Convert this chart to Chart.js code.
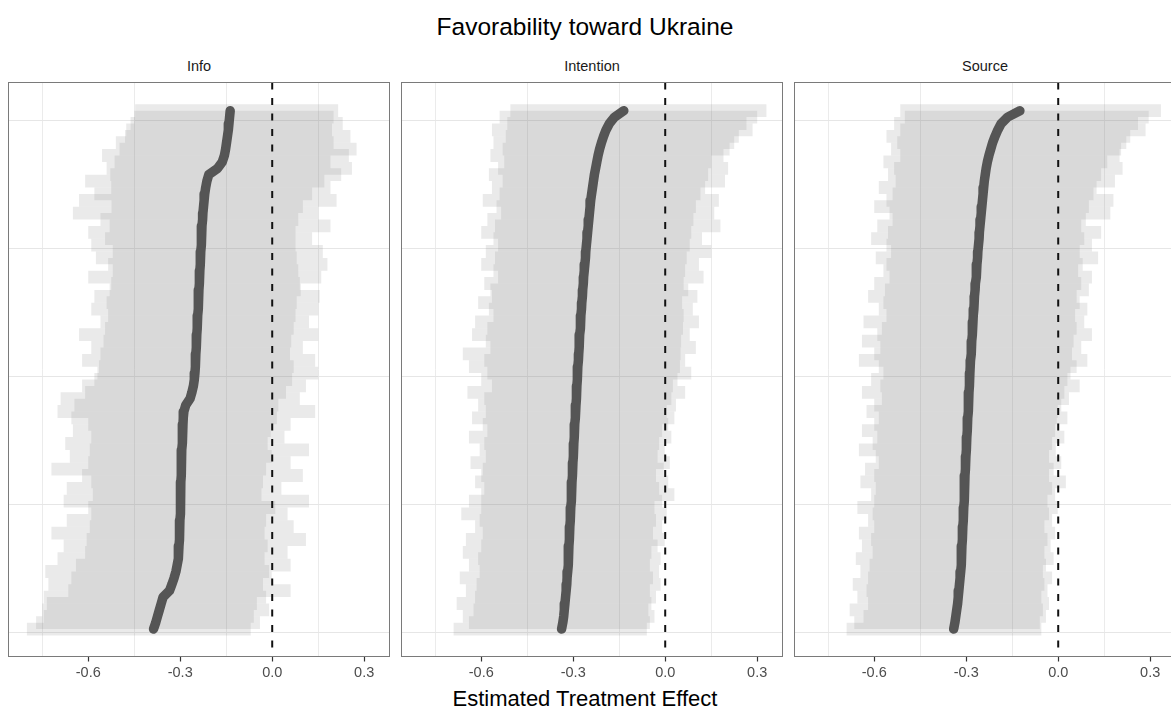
<!DOCTYPE html>
<html><head><meta charset="utf-8">
<script src="https://cdn.jsdelivr.net/npm/chart.js@4.4.1/dist/chart.umd.min.js"></script>
<style>
html,body{margin:0;padding:0;background:#fff;overflow:hidden;width:1171px;height:708px;position:relative;font-family:"Liberation Sans",Arial,sans-serif;}
canvas{position:absolute;top:82px;}
.txt{position:absolute;white-space:nowrap;transform:translate(-50%,-50%);line-height:1;}
.strip{top:66px;font-size:14.5px;color:#1a1a1a;}
</style></head><body>
<div class="txt" style="left:585px;top:27px;font-size:24.5px;color:#000">Favorability toward Ukraine</div>
<div class="txt strip" id="s0"></div>
<div class="txt strip" id="s1"></div>
<div class="txt strip" id="s2"></div>
<div class="txt" style="left:585px;top:699px;font-size:22px;color:#000">Estimated Treatment Effect</div>
<canvas id="c0" width="382" height="620" style="left:8px"></canvas>
<canvas id="c1" width="382" height="620" style="left:401px"></canvas>
<canvas id="c2" width="382" height="620" style="left:794px"></canvas>
<script>
// Facet names
const panels = ['Info', 'Intention', 'Source'];
// Labelled x ticks and the (unlabelled) vertical grid lines
const xTicks = [-0.6, -0.3, 0.0, 0.3];
const xGridLines = [-0.75, -0.45, -0.15, 0.15];

// Rows are listed from the top of each panel (largest estimate) down to the bottom.
const infoEst = [-0.137,-0.139,-0.141,-0.143,-0.146,-0.149,-0.152,-0.156,-0.163,-0.178,
 -0.207,-0.213,-0.217,-0.220,-0.222,-0.224,-0.226,-0.227,-0.229,-0.230,
 -0.231,-0.232,-0.233,-0.234,-0.235,-0.236,-0.237,-0.238,-0.239,-0.240,
 -0.241,-0.242,-0.243,-0.244,-0.245,-0.246,-0.247,-0.248,-0.249,-0.250,
 -0.251,-0.252,-0.254,-0.257,-0.262,-0.268,-0.282,-0.288,-0.290,-0.291,
 -0.292,-0.293,-0.294,-0.295,-0.296,-0.296,-0.297,-0.297,-0.298,-0.298,
 -0.299,-0.299,-0.300,-0.300,-0.301,-0.302,-0.302,-0.303,-0.304,-0.305,
 -0.307,-0.310,-0.314,-0.320,-0.327,-0.335,-0.356,-0.362,-0.368,-0.374,
 -0.380,-0.387];
const infoLo = [-0.447,-0.450,-0.462,-0.476,-0.480,-0.510,-0.498,-0.555,-0.514,-0.540,
 -0.528,-0.610,-0.525,-0.580,-0.630,-0.524,-0.650,-0.560,-0.530,-0.600,
 -0.545,-0.590,-0.520,-0.575,-0.535,-0.520,-0.600,-0.525,-0.530,-0.580,
 -0.540,-0.590,-0.535,-0.560,-0.545,-0.630,-0.550,-0.590,-0.560,-0.620,
 -0.565,-0.570,-0.580,-0.620,-0.610,-0.690,-0.645,-0.700,-0.655,-0.600,
 -0.650,-0.590,-0.675,-0.595,-0.660,-0.600,-0.720,-0.620,-0.590,-0.670,
 -0.585,-0.680,-0.600,-0.590,-0.670,-0.595,-0.720,-0.605,-0.680,-0.610,
 -0.700,-0.640,-0.740,-0.655,-0.730,-0.665,-0.745,-0.735,-0.750,-0.745,
 -0.770,-0.800];
const infoHi = [0.215,0.200,0.230,0.195,0.255,0.200,0.275,0.250,0.190,0.260,
 0.225,0.170,0.190,0.130,0.210,0.100,0.150,0.085,0.190,0.076,
 0.130,0.076,0.165,0.080,0.180,0.085,0.160,0.090,0.093,0.155,
 0.080,0.150,0.076,0.120,0.070,0.150,0.062,0.100,0.058,0.140,
 0.070,0.150,0.065,0.110,0.045,0.090,0.020,0.140,0.015,0.060,
 -0.005,0.040,-0.015,0.120,0.000,0.060,-0.020,0.100,-0.030,0.030,
 -0.035,0.120,0.010,0.050,-0.020,0.070,-0.025,0.110,-0.015,0.050,
 -0.025,0.060,-0.010,0.000,-0.030,0.060,-0.020,-0.050,-0.010,-0.060,
 -0.040,-0.070];

const intEst = [-0.135,-0.165,-0.182,-0.193,-0.201,-0.208,-0.214,-0.219,-0.223,-0.227,
 -0.231,-0.234,-0.237,-0.240,-0.243,-0.245,-0.247,-0.249,-0.251,-0.253,
 -0.255,-0.257,-0.259,-0.260,-0.262,-0.264,-0.266,-0.267,-0.269,-0.270,
 -0.272,-0.273,-0.275,-0.276,-0.277,-0.279,-0.280,-0.281,-0.282,-0.283,
 -0.285,-0.286,-0.287,-0.288,-0.289,-0.290,-0.291,-0.292,-0.294,-0.295,
 -0.296,-0.297,-0.298,-0.299,-0.300,-0.301,-0.302,-0.303,-0.304,-0.305,
 -0.306,-0.307,-0.308,-0.309,-0.310,-0.311,-0.312,-0.313,-0.314,-0.315,
 -0.316,-0.317,-0.318,-0.320,-0.321,-0.323,-0.325,-0.327,-0.329,-0.331,
 -0.334,-0.338];
const intLo = [-0.505,-0.540,-0.515,-0.565,-0.520,-0.560,-0.530,-0.570,-0.525,-0.545,
 -0.575,-0.530,-0.565,-0.540,-0.595,-0.550,-0.535,-0.580,-0.555,-0.600,
 -0.560,-0.545,-0.585,-0.555,-0.600,-0.560,-0.545,-0.590,-0.570,-0.565,
 -0.610,-0.575,-0.560,-0.620,-0.580,-0.630,-0.585,-0.570,-0.660,-0.590,
 -0.640,-0.580,-0.600,-0.565,-0.645,-0.590,-0.610,-0.585,-0.630,-0.595,
 -0.580,-0.640,-0.590,-0.605,-0.585,-0.635,-0.595,-0.600,-0.620,-0.590,
 -0.600,-0.640,-0.600,-0.665,-0.605,-0.620,-0.595,-0.650,-0.600,-0.660,
 -0.610,-0.640,-0.605,-0.670,-0.615,-0.650,-0.620,-0.680,-0.625,-0.660,
 -0.640,-0.690];
const intHi = [0.330,0.300,0.265,0.285,0.240,0.225,0.210,0.190,0.150,0.205,
 0.140,0.195,0.130,0.115,0.175,0.100,0.160,0.092,0.180,0.085,
 0.120,0.080,0.150,0.070,0.110,0.065,0.125,0.060,0.075,0.105,
 0.055,0.090,0.060,0.110,0.058,0.080,0.052,0.100,0.050,0.065,
 0.048,0.085,0.040,0.025,0.065,0.020,0.035,0.005,0.030,0.010,
 -0.010,0.020,-0.020,0.000,-0.025,0.015,-0.005,-0.030,0.010,-0.020,
 0.030,-0.010,-0.035,0.005,-0.030,-0.010,-0.040,0.000,-0.025,-0.045,
 -0.015,-0.050,-0.020,-0.040,-0.015,-0.050,-0.030,-0.045,-0.055,-0.035,
 -0.050,-0.060];

const srcEst = [-0.125,-0.165,-0.186,-0.197,-0.206,-0.214,-0.220,-0.226,-0.231,-0.235,
 -0.238,-0.241,-0.243,-0.245,-0.247,-0.249,-0.251,-0.253,-0.255,-0.257,
 -0.258,-0.260,-0.262,-0.263,-0.265,-0.266,-0.268,-0.270,-0.271,-0.273,
 -0.274,-0.275,-0.277,-0.278,-0.279,-0.281,-0.282,-0.283,-0.284,-0.286,
 -0.287,-0.288,-0.289,-0.290,-0.291,-0.292,-0.293,-0.294,-0.295,-0.296,
 -0.297,-0.298,-0.299,-0.300,-0.301,-0.302,-0.303,-0.304,-0.305,-0.306,
 -0.307,-0.307,-0.308,-0.309,-0.310,-0.311,-0.312,-0.313,-0.314,-0.315,
 -0.316,-0.317,-0.318,-0.320,-0.322,-0.324,-0.326,-0.328,-0.331,-0.334,
 -0.337,-0.341];
const srcLo = [-0.515,-0.500,-0.535,-0.515,-0.560,-0.525,-0.545,-0.515,-0.570,-0.535,
 -0.555,-0.530,-0.585,-0.540,-0.560,-0.600,-0.550,-0.540,-0.590,-0.555,
 -0.610,-0.560,-0.545,-0.595,-0.560,-0.570,-0.550,-0.600,-0.565,-0.620,
 -0.570,-0.585,-0.560,-0.635,-0.575,-0.590,-0.640,-0.580,-0.600,-0.650,
 -0.585,-0.570,-0.610,-0.580,-0.640,-0.575,-0.600,-0.625,-0.585,-0.600,
 -0.640,-0.590,-0.605,-0.650,-0.595,-0.585,-0.630,-0.600,-0.645,-0.595,
 -0.610,-0.600,-0.655,-0.605,-0.620,-0.600,-0.650,-0.610,-0.640,-0.605,
 -0.660,-0.615,-0.645,-0.620,-0.670,-0.625,-0.655,-0.620,-0.680,-0.635,
 -0.665,-0.690];
const srcHi = [0.335,0.295,0.260,0.285,0.235,0.222,0.205,0.200,0.160,0.210,
 0.140,0.185,0.125,0.115,0.180,0.100,0.170,0.090,0.075,0.140,
 0.085,0.110,0.070,0.130,0.080,0.065,0.110,0.075,0.100,0.060,
 0.070,0.095,0.055,0.085,0.060,0.110,0.050,0.075,0.045,0.095,
 0.060,0.040,0.030,0.070,0.020,0.035,0.010,0.000,0.030,-0.005,
 -0.010,0.020,-0.020,-0.008,-0.030,0.010,-0.015,-0.030,0.025,-0.020,
 -0.010,-0.035,0.000,-0.030,-0.020,-0.045,-0.010,-0.035,-0.025,-0.045,
 -0.015,-0.040,-0.050,-0.020,-0.045,-0.035,-0.055,-0.030,-0.050,-0.040,
 -0.060,-0.055];

const series = [
  {lo: infoLo, hi: infoHi, est: infoEst},
  {lo: intLo,  hi: intHi,  est: intEst},
  {lo: srcLo,  hi: srcHi,  est: srcEst}
];

// rank axis (row 0 = bottom unit)
const N = infoEst.length;
const Y_MIN = -4.28, Y_MAX = 85.41;
const rankGrid = [-0.5, 19.5, 39.5, 59.5, 79.5];
const X_MIN = -0.86, X_MAX = 0.3825;

const isMajor = v => xTicks.some(t => Math.abs(t - v) < 1e-9);

const frame = {
  id: 'frame',
  afterDraw(chart) {
    const {ctx, chartArea: a} = chart;
    ctx.save();
    ctx.strokeStyle = '#7a7a7a';
    ctx.lineWidth = 1;
    ctx.strokeRect(a.left, a.top, a.right - a.left, a.bottom - a.top);
    ctx.restore();
  }
};

const centers = [199, 592, 985];
panels.forEach((name, p) => {
  const s = document.getElementById('s' + p);
  s.textContent = name;
  s.style.left = centers[p] + 'px';

  const {lo, hi, est} = series[p];
  const bars = lo.map((v, j) => ({x: [v, hi[j]], y: N - 1 - j}));
  const pts = est.map((v, j) => ({x: v, y: N - 1 - j}));

  new Chart(document.getElementById('c' + p), {
    type: 'bar',
    data: {
      datasets: [
        {type: 'line', data: pts, pointRadius: 0, borderWidth: 9.5, borderColor: 'rgba(78,78,78,0.95)',
         borderCapStyle: 'round', borderJoinStyle: 'round', tension: 0, fill: false, order: 0},
        {type: 'line', data: [{x: 0, y: Y_MAX}, {x: 0, y: Y_MIN}], borderColor: '#111',
         borderWidth: 2, borderDash: [7, 8.5], pointRadius: 0, fill: false, tension: 0, order: 1},
        {type: 'bar', data: bars, backgroundColor: 'rgba(128,128,128,0.17)', borderWidth: 0,
         barPercentage: 2, categoryPercentage: 1, order: 2}
      ]
    },
    options: {
      responsive: false, animation: false, devicePixelRatio: 1, indexAxis: 'y', events: [],
      layout: {autoPadding: false, padding: {left: 0.5, right: 0.5, top: 0.5, bottom: 0}},
      plugins: {legend: {display: false}, tooltip: {enabled: false}},
      scales: {
        x: {
          type: 'linear', min: X_MIN, max: X_MAX, offset: false, beginAtZero: false,
          afterBuildTicks: sc => { sc.ticks = xTicks.concat(xGridLines).sort((a, b) => a - b).map(v => ({value: v})); },
          afterFit: sc => { sc.height = 45.5; sc.paddingLeft = 0; sc.paddingRight = 0; },
          ticks: {autoSkip: false, maxRotation: 0, minRotation: 0, padding: 3, color: '#4d4d4d',
                  font: {size: 14.5, family: 'Liberation Sans'},
                  callback: v => isMajor(v) ? Number(v).toFixed(1) : ''},
          grid: {offset: false, lineWidth: 1, tickLength: 5, tickWidth: 1.2,
                 color: c => (c.tick && isMajor(c.tick.value)) ? 'rgba(0,0,0,0)' : '#ebebeb',
                 tickColor: c => (c.tick && isMajor(c.tick.value)) ? '#333333' : 'rgba(0,0,0,0)'},
          border: {display: false}
        },
        y: {
          type: 'linear', min: Y_MIN, max: Y_MAX, offset: false, beginAtZero: false,
          afterBuildTicks: sc => { sc.ticks = rankGrid.map(v => ({value: v})); },
          afterFit: sc => { sc.width = 0; sc.paddingTop = 0; sc.paddingBottom = 0; },
          ticks: {display: false},
          grid: {offset: false, color: '#e6e6e6', lineWidth: 1, drawTicks: false},
          border: {display: false}
        }
      }
    },
    plugins: [frame]
  });
});
</script>
</body></html>
